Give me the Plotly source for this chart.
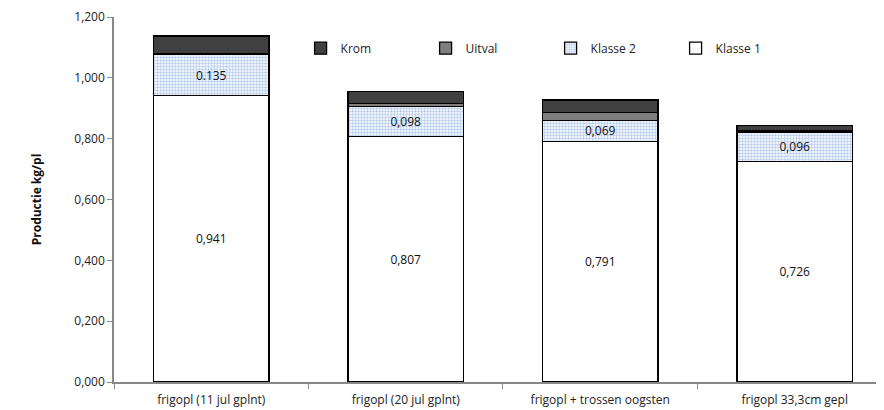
import plotly.graph_objects as go

categories = ["frigopl (11 jul gplnt)", "frigopl (20 jul gplnt)", "frigopl + trossen oogsten", "frigopl 33,3cm gepl"]
klasse1 = [0.941, 0.807, 0.791, 0.726]
klasse2 = [0.135, 0.098, 0.069, 0.096]
uitval = [0.004, 0.011, 0.025, 0.003]
krom = [0.058, 0.040, 0.042, 0.018]
klasse1_labels = ["0,941", "0,807", "0,791", "0,726"]
klasse2_labels = ["0.135", "0,098", "0,069", "0,096"]
yticks = [0.0, 0.2, 0.4, 0.6, 0.8, 1.0, 1.2]

FONT = "Open Sans"
line = dict(color="#000000", width=1.3)
W = 0.595

fig = go.Figure()
fig.add_trace(go.Bar(
    name="Klasse 1", x=categories, y=klasse1, width=W,
    marker=dict(color="#ffffff", line=line),
    text=klasse1_labels, textposition="inside", insidetextanchor="middle",
    textangle=0, textfont=dict(color="#111111", size=12, family=FONT),
))
fig.add_trace(go.Bar(
    name="Klasse 2", x=categories, y=klasse2, width=W,
    marker=dict(color="#ffffff", line=line,
                pattern=dict(shape=".", fgcolor="#6b98d8", bgcolor="#ffffff",
                             size=3, solidity=0.5)),
    text=klasse2_labels, textposition="inside", insidetextanchor="middle",
    textangle=0, textfont=dict(color="#111111", size=12, family=FONT),
))
fig.add_trace(go.Bar(
    name="Uitval", x=categories, y=uitval, width=W,
    marker=dict(color="#7f7f7f", line=line),
))
fig.add_trace(go.Bar(
    name="Krom", x=categories, y=krom, width=W,
    marker=dict(color="#404040", line=line),
))

fig.update_layout(
    barmode="stack",
    width=876, height=402,
    margin=dict(l=106, r=0, t=9, b=28, autoexpand=False),
    plot_bgcolor="#ffffff", paper_bgcolor="#ffffff",
    font=dict(family=FONT, size=11, color="#222222"),
    uniformtext=dict(minsize=12, mode="show"),
    showlegend=True,
    legend=dict(
        orientation="h", traceorder="reversed",
        xref="container", yref="container",
        x=0.334, y=0.90, xanchor="left", yanchor="middle",
        entrywidth=80, entrywidthmode="pixels",
        itemwidth=30,
        font=dict(size=12, family=FONT, color="#222222"),
        bgcolor="rgba(0,0,0,0)",
    ),
    xaxis=dict(
        range=[-0.5, 3.459],
        showline=True, linecolor="#888888", linewidth=1.5,
        ticks="outside", tickson="boundaries", ticklen=5, tickcolor="#888888",
        ticklabelstandoff=6,
        showgrid=False, tickfont=dict(size=12, family=FONT, color="#222222"),
    ),
    yaxis=dict(
        range=[0, 1.2], tickvals=yticks, tickformat=".3f",
        showline=True, linecolor="#888888", linewidth=1.5,
        ticks="outside", ticklen=5, tickcolor="#888888",
        showgrid=False, zeroline=False,
        tickfont=dict(size=12, family=FONT, color="#222222"),
        title=dict(text="<b>Productie kg/pl</b>", font=dict(size=12, family=FONT, color="#111111"), standoff=30),
    ),
    separators=",.",
)

fig.write_html("out.html")
